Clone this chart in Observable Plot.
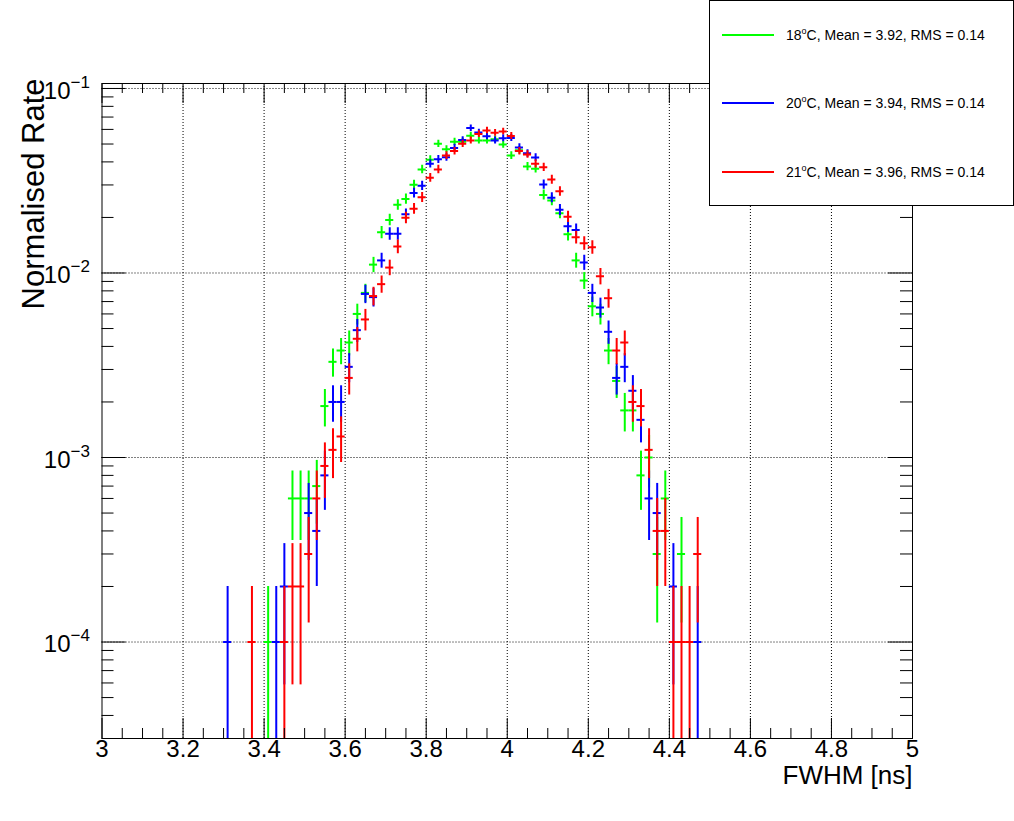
<!DOCTYPE html>
<html>
<head>
<meta charset="utf-8">
<script src="https://cdn.jsdelivr.net/npm/d3@7"></script>
<script src="https://cdn.jsdelivr.net/npm/@observablehq/plot@0.6"></script>
<style>
  body { margin: 0; background: #fff; }
  #wrap { position: relative; width: 1014px; height: 821px; font-family: "Liberation Sans", Arial, sans-serif; }
  #legend { position: absolute; left: 709px; top: 0px; width: 305px; height: 206px; box-sizing: border-box; border: 1px solid #000; background: #fff; }
  .swatch { position: absolute; left: 12px; width: 52px; height: 2px; }
  .lab { position: absolute; left: 76px; font-size: 14px; line-height: 16px; white-space: nowrap; color: #000; }
  .lab sup { font-size: 9px; vertical-align: 6px; line-height: 0; }
</style>
</head>
<body>
<div id="wrap">
  <div id="chart"></div>
  <div id="legend"></div>
</div>
<script>
// ---- data (histogram counts per 0.02 ns bin) ----
const binCenters = [
  3.31, 3.33, 3.35, 3.37, 3.39, 3.41, 3.43, 3.45, 3.47, 3.49,
  3.51, 3.53, 3.55, 3.57, 3.59, 3.61, 3.63, 3.65, 3.67, 3.69,
  3.71, 3.73, 3.75, 3.77, 3.79, 3.81, 3.83, 3.85, 3.87, 3.89,
  3.91, 3.93, 3.95, 3.97, 3.99, 4.01, 4.03, 4.05, 4.07, 4.09,
  4.11, 4.13, 4.15, 4.17, 4.19, 4.21, 4.23, 4.25, 4.27, 4.29,
  4.31, 4.33, 4.35, 4.37, 4.39, 4.41, 4.43, 4.45, 4.47
];
const counts18C = [
  0, 0, 0, 0, 0, 1, 0, 0, 6, 6,
  6, 7, 19, 33, 38, 42, 60, 78, 111, 166,
  194, 234, 252, 301, 364, 411, 501, 468, 514, 515,
  555, 523, 523, 530, 497, 433, 462, 378, 367, 265,
  247, 211, 162, 117, 91, 66, 60, 38, 26, 18,
  18, 8, 10, 3, 6, 0, 3, 0, 0
];
const counts20C = [
  1, 0, 0, 0, 0, 0, 1, 2, 0, 0,
  5, 4, 8, 20, 20, 31, 49, 77, 74, 117,
  163, 163, 208, 271, 297, 391, 413, 424, 476, 525,
  610, 578, 551, 523, 538, 539, 479, 445, 422, 302,
  256, 220, 179, 171, 114, 78, 65, 48, 27, 31,
  23, 16, 6, 5, 0, 2, 0, 0, 1
];
const counts21C = [
  0, 0, 0, 1, 0, 0, 0, 1, 2, 2,
  3, 6, 9, 11, 13, 27, 44, 56, 75, 87,
  107, 139, 199, 223, 257, 328, 364, 433, 458, 501,
  523, 567, 592, 575, 585, 553, 458, 439, 391, 374,
  321, 277, 202, 156, 145, 138, 96, 73, 38, 42,
  20, 19, 11, 4, 4, 1, 1, 1, 3
];
const totalEntries = 10000;
const binHalfWidth = 0.01;

const seriesTemps = ["18", "20", "21"];
const seriesMeans = ["3.92", "3.94", "3.96"];
const seriesRMS = ["0.14", "0.14", "0.14"];
const seriesColors = ["#00ff00", "#0000ff", "#ff0000"];
const seriesCounts = [counts18C, counts20C, counts21C];

const xTickValues = [3, 3.2, 3.4, 3.6, 3.8, 4, 4.2, 4.4, 4.6, 4.8, 5];
const xTickLabels = ["3", "3.2", "3.4", "3.6", "3.8", "4", "4.2", "4.4", "4.6", "4.8", "5"];
const yDecades = [1e-4, 1e-3, 1e-2, 1e-1];
const yDecadeExponents = ["\u22124", "\u22123", "\u22122", "\u22121"];
const xTitle = "FWHM [ns]";
const yTitle = "Normalised Rate";

// ---- layout ----
const W = 1014, H = 821;
const mL = 101.5, mR = 102, mT = 83, mB = 83;
const frameW = W - mL - mR, frameH = H - mT - mB;
const xDomain = [3, 5];
const yDomain = [3.0e-5, 0.1064];

// rows for error bars
const rows = seriesCounts.map((counts, s) =>
  binCenters.map((c, i) => ({c, n: counts[i]}))
    .filter(d => d.n > 0)
    .map(d => ({
      x: d.c,
      v: d.n / totalEntries,
      lo: Math.max(d.n - Math.sqrt(d.n), 1e-6) / totalEntries,
      hi: (d.n + Math.sqrt(d.n)) / totalEntries
    }))
);

// minor ticks
const xMinor = d3.range(0, 41).map(i => 3 + i * 0.05).filter(v => Math.abs(v * 5 - Math.round(v * 5)) > 1e-6);
const yMinor = [];
for (const dec of [1e-5, 1e-4, 1e-3, 1e-2]) for (let m = 2; m <= 9; m++) {
  const v = m * dec;
  if (v > yDomain[0] && v < yDomain[1]) yMinor.push(v);
}
const xGrid = xTickValues.slice(1, -1);

const font = "Liberation Sans, Arial, sans-serif";
const grid = {stroke: "#000", strokeWidth: 1, strokeDasharray: "1,2"};

const seriesMarks = rows.flatMap((r, s) => [
  Plot.ruleX(r, {x: "x", y1: "lo", y2: "hi", stroke: seriesColors[s], strokeWidth: 2, clip: true}),
  Plot.ruleY(r, {y: "v", x1: d => d.x - binHalfWidth, x2: d => d.x + binHalfWidth, stroke: seriesColors[s], strokeWidth: 2, clip: true})
]);

const chart = Plot.plot({
  width: W, height: H,
  marginLeft: mL, marginRight: mR, marginTop: mT, marginBottom: mB,
  style: {fontFamily: font, background: "#fff", color: "#000", overflow: "visible"},
  x: {domain: xDomain, axis: null},
  y: {type: "log", domain: yDomain, axis: null},
  marks: [
    Plot.ruleX(xGrid, {x: d => d, ...grid}),
    Plot.ruleY(yDecades, {y: d => d, ...grid}),
    ...seriesMarks,
    Plot.frame({stroke: "#000", strokeWidth: 1}),
    // x ticks bottom & top
    Plot.tickX(xTickValues, {x: d => d, insetTop: frameH - 20, stroke: "#000"}),
    Plot.tickX(xTickValues, {x: d => d, insetBottom: frameH - 20, stroke: "#000"}),
    Plot.tickX(xMinor, {x: d => d, insetTop: frameH - 10, stroke: "#000"}),
    Plot.tickX(xMinor, {x: d => d, insetBottom: frameH - 10, stroke: "#000"}),
    // y ticks left & right
    Plot.tickY(yDecades, {y: d => d, insetRight: frameW - 24, stroke: "#000"}),
    Plot.tickY(yDecades, {y: d => d, insetLeft: frameW - 24, stroke: "#000"}),
    Plot.tickY(yMinor, {y: d => d, insetRight: frameW - 12, stroke: "#000"}),
    Plot.tickY(yMinor, {y: d => d, insetLeft: frameW - 12, stroke: "#000"}),
    // x tick labels
    Plot.text(xTickValues, {x: d => d, frameAnchor: "bottom", text: (d, i) => xTickLabels[i], dy: 18.5, fontSize: 24, fill: "#000"}),
    // y tick labels: 10 with superscript exponent
    Plot.text(yDecades, {y: d => d, frameAnchor: "left", text: () => "10", textAnchor: "end", dx: -31.5, dy: 2.5, fontSize: 24, fill: "#000"}),
    Plot.text(yDecades, {y: d => d, frameAnchor: "left", text: (d, i) => yDecadeExponents[i], textAnchor: "start", dx: -31.5, dy: -6, fontSize: 17, fill: "#000"}),
    // axis titles
    Plot.text([xTitle], {frameAnchor: "bottom-right", text: d => d, textAnchor: "end", dy: 45, fontSize: 26, fill: "#000"}),
    Plot.text([yTitle], {frameAnchor: "top-left", text: d => d, rotate: -90, textAnchor: "end", dx: -80.5, dy: -5, fontSize: 31, fill: "#000"})
  ]
});
document.getElementById("chart").appendChild(chart);

// ---- legend ----
const legend = document.getElementById("legend");
const legendRowY = [33.5, 101.5, 170.5];
seriesTemps.forEach((t, s) => {
  const sw = document.createElement("div");
  sw.className = "swatch";
  sw.style.top = (legendRowY[s] - 1) + "px";
  sw.style.background = seriesColors[s];
  legend.appendChild(sw);
  const lab = document.createElement("div");
  lab.className = "lab";
  lab.style.top = (legendRowY[s] - 8) + "px";
  lab.innerHTML = `${t}<sup>o</sup>C, Mean = ${seriesMeans[s]}, RMS = ${seriesRMS[s]}`;
  legend.appendChild(lab);
});
</script>
</body>
</html>
